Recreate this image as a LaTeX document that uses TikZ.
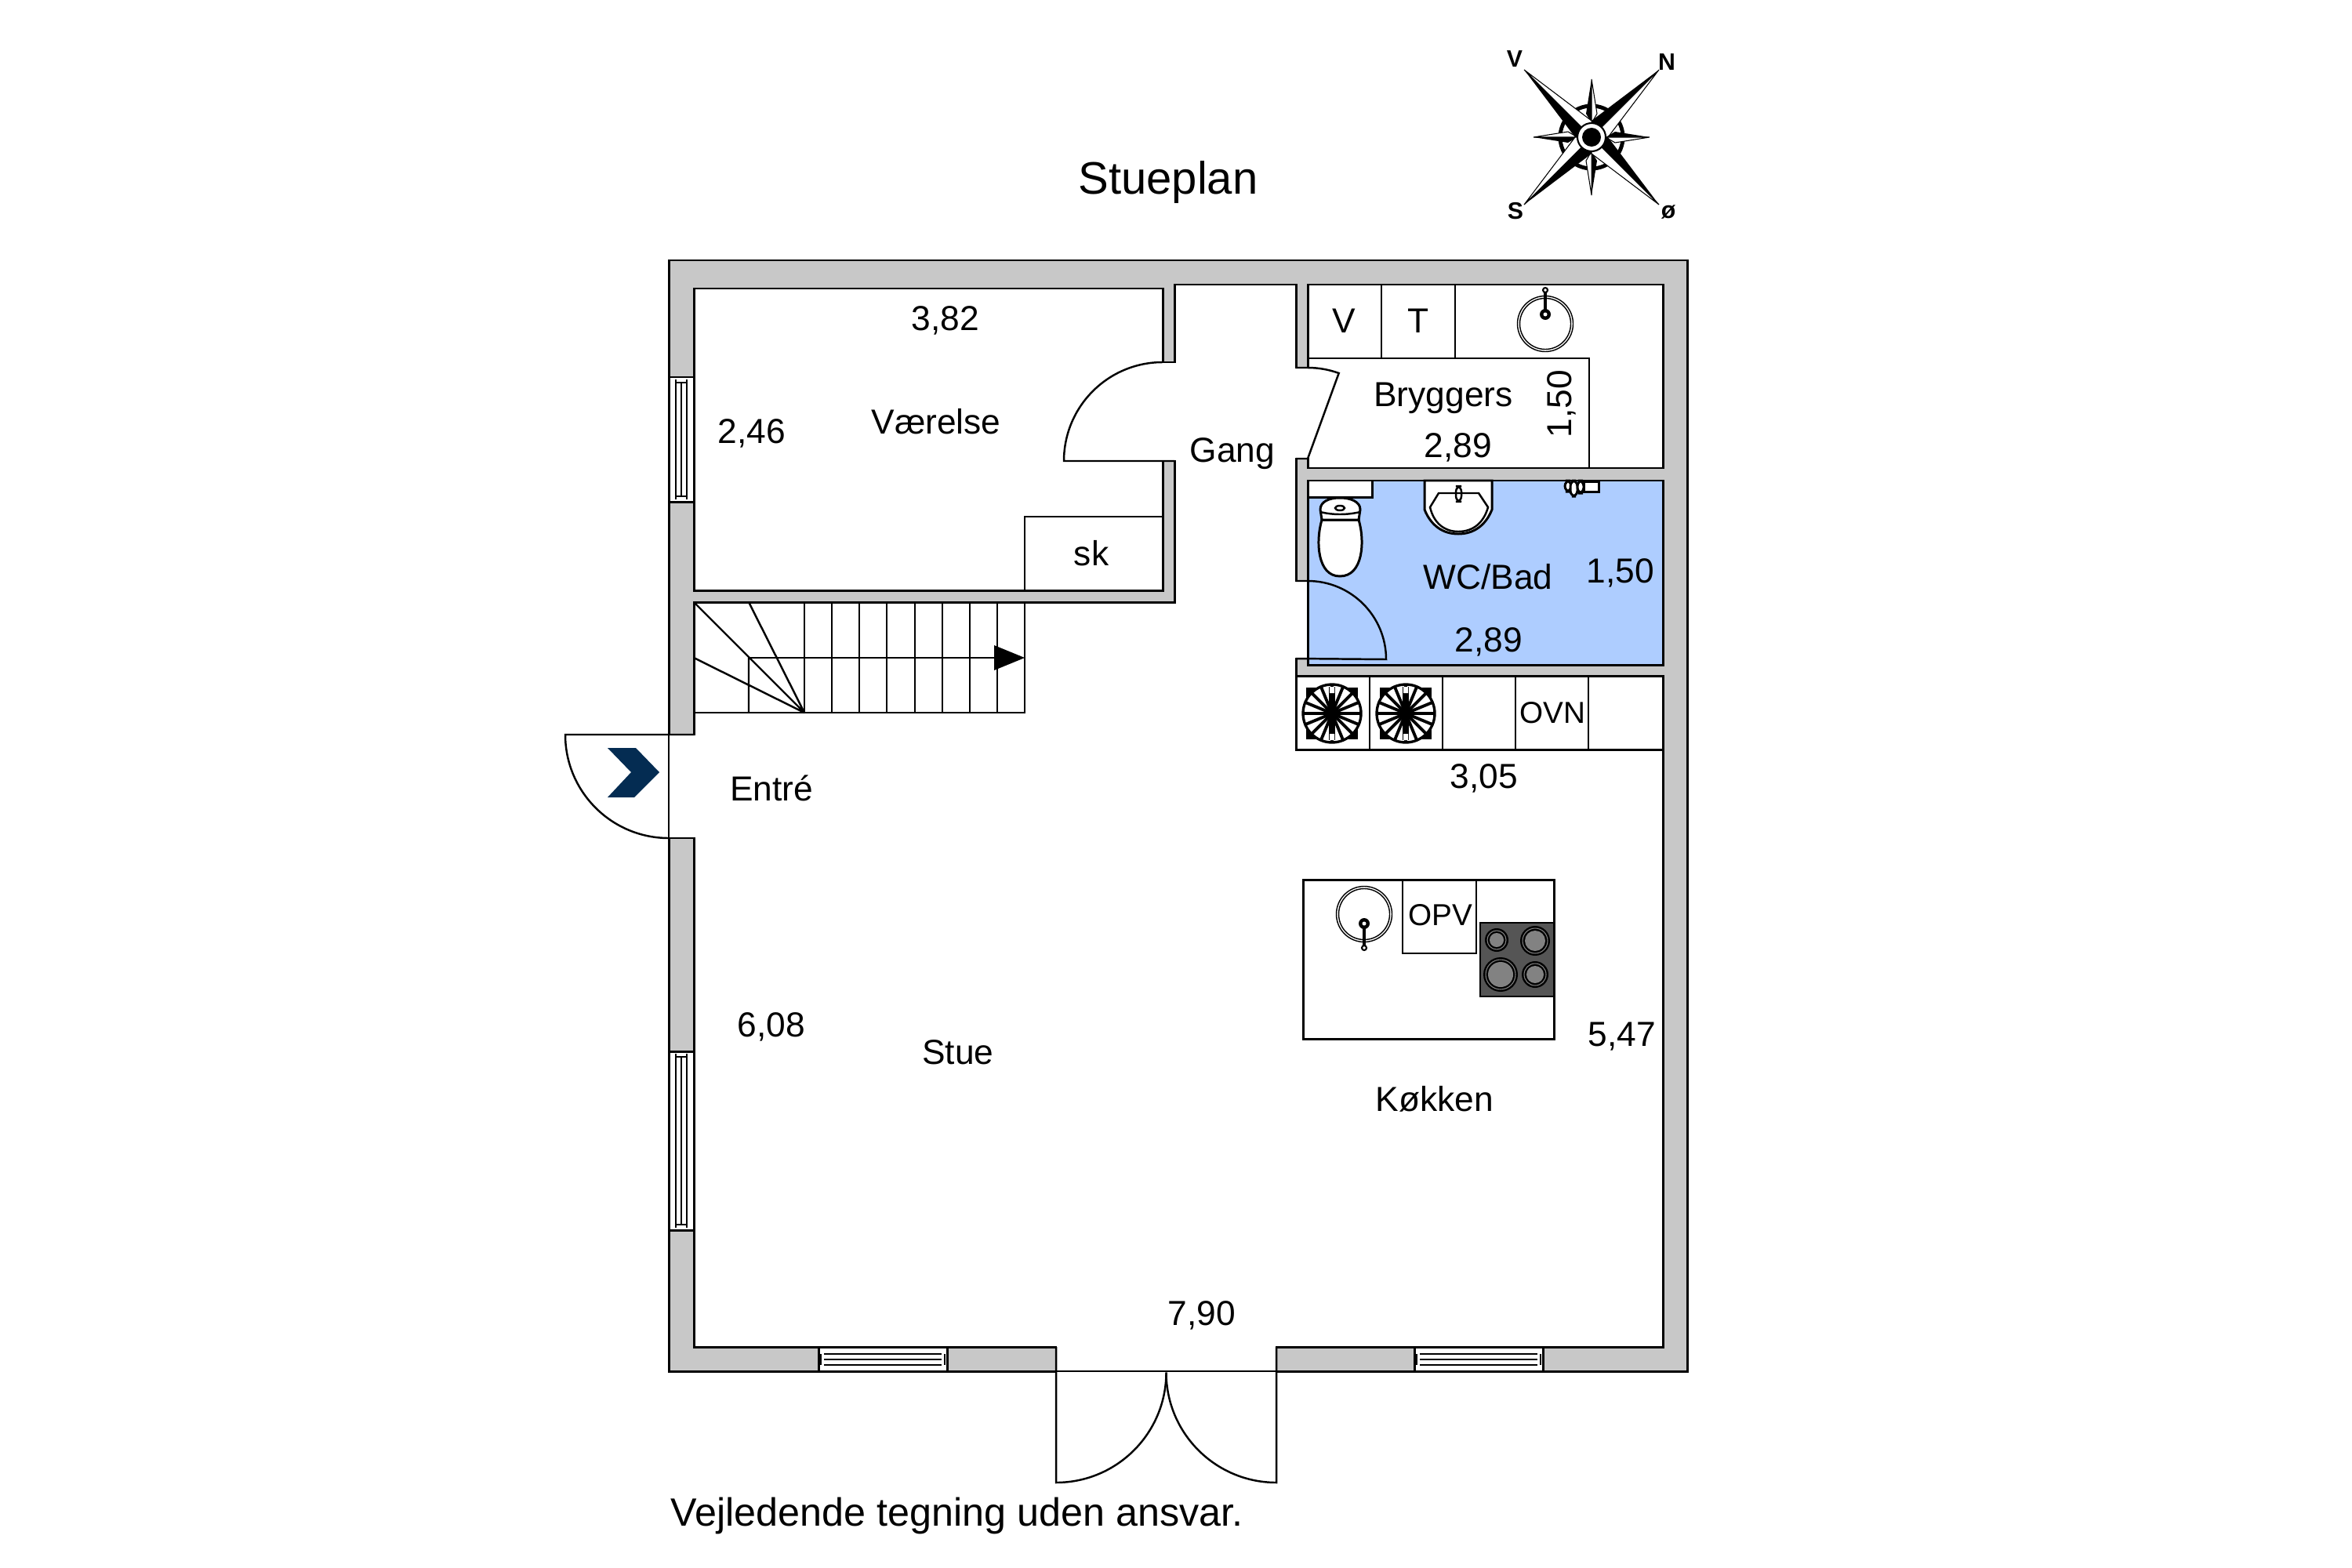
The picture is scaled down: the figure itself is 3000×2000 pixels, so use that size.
\documentclass[tikz,border=0pt]{standalone}
\usepackage{fontspec}
\setmainfont{Liberation Sans}
\usepackage{xcolor}
\definecolor{wallgrey}{RGB}{200, 200, 200}
\definecolor{bathblue}{RGB}{174, 205, 255}
\definecolor{entrynavy}{RGB}{4, 44, 82}
\definecolor{hobgrey}{RGB}{85, 85, 85}
\definecolor{burnergrey}{RGB}{130, 130, 130}

\begin{document}
\begin{tikzpicture}[
        x=0.01cm, y=-0.01cm,
        wall/.style={draw=black, fill=wallgrey, line width=0.85pt},
        room/.style={draw=black, fill=white, line width=0.85pt},
        gap/.style={fill=white},
        plan/.style={draw=black, line width=0.7pt},
        doorline/.style={draw=black, line width=0.7pt},
        ringline/.style={draw=black, line width=0.4pt},
        lbl/.style={font=\fontsize{12.6}{15}\selectfont},
        smalllbl/.style={font=\fontsize{11}{13}\selectfont},
        titlelbl/.style={font=\fontsize{16.5}{20}\selectfont},
        notelbl/.style={font=\fontsize{14.3}{17}\selectfont},
        compasslbl/.style={font=\fontsize{8.6}{10}\selectfont\bfseries}
    ]
    \useasboundingbox (0,0) rectangle (3000,2000);

    % walls and rooms
    \path[wall] (853,332) rectangle (2152,1749);
    \path[room] (885,368) rectangle (1483,753);
    \path[room] (1668,363) rectangle (2121,597);
    \path[room, fill=bathblue] (1668,613) rectangle (2121,848);
    \path[room] (1498,363) -- (1653,363) -- (1653,862) -- (2121,862) -- (2121,1718)
        -- (885,1718) -- (885,768) -- (1498,768) -- cycle;

    % openings
    \fill[gap] (1481,463) rectangle (1500,587);
    \fill[gap] (1651,470) rectangle (1669.5,584);
    \fill[gap] (1651,742) rectangle (1667,839);
    \fill[gap] (851,938) rectangle (887,1068);
    \fill[gap] (1348,1716) rectangle (1627,1751);

    % doors
    \draw[doorline] (1483,462) arc[start angle=270, end angle=180, radius=126] -- (1498,588);
    \draw[doorline] (1483,462) -- (1498,462);
    \draw[doorline] (1653,469) -- (1668,469) arc[start angle=270, end angle=290, radius=116] -- (1668,585) -- (1653,585);
    \draw[doorline] (1653,741) -- (1668,741) arc[start angle=270, end angle=360, radius=100] -- (1653,840);
    \draw[doorline] (1668,741) -- (1668,848);
    \draw[doorline] (853,1069) arc[start angle=90, end angle=180, radius=132] -- (885,937);
    \draw[doorline] (885,1069) -- (853,1069);
    \draw[line width=0.4pt] (853,937) -- (853,1069);
    \draw[doorline] (1347,1718) -- (1347,1891) arc[start angle=90, end angle=0, radius=140.5];
    \draw[doorline] (1628,1718) -- (1628,1891) arc[start angle=90, end angle=180, radius=140.5];
    \draw[line width=0.4pt] (1347,1749) -- (1628,1749);

    % entry mark
    \fill[entrynavy] (775,954) -- (811,954) -- (841,985) -- (809,1017) -- (775,1017) -- (805,985) -- cycle;

    % windows
    \foreach \wa/\wb in {481/640, 1341/1569} {
        \path[room] (853,\wa) rectangle (885,\wb);
        \draw[plan] (862,\wa+3) -- (862,\wb-3) (869,\wa+7) -- (869,\wb-7) (876,\wa+3) -- (876,\wb-3);
        \draw[plan] (862,\wa+7) -- (876,\wa+7) (862,\wb-7) -- (876,\wb-7);
    }
    \foreach \wa/\wb in {1044/1208, 1804/1968} {
        \path[room] (\wa,1718) rectangle (\wb,1749);
        \draw[plan] (\wa+7,1727) -- (\wb-7,1727) (\wa+7,1734) -- (\wb-7,1734) (\wa+7,1741) -- (\wb-7,1741);
        \draw[plan] (\wa+3,1727) -- (\wa+3,1741) (\wb-3,1727) -- (\wb-3,1741);
    }

    % stairs
    \draw[plan] (885,909) -- (1307,909) -- (1307,768);
    \foreach \sx in {1026,1061,1096,1131,1167,1202,1237,1272}
        \draw[plan] (\sx,768) -- (\sx,909);
    \draw[plan] (955,839) -- (955,909) (885,768) -- (1026,909) (955,768) -- (1026,909) (885,839) -- (1026,909);
    \draw[plan] (955,839) -- (1270,839);
    \fill (1268,823) -- (1307,839) -- (1268,855) -- cycle;

    % wardrobe
    \draw[plan] (1307,753) -- (1307,659) -- (1483,659);

    % bryggers fittings
    \draw[plan] (1668,457) -- (2027,457) -- (2027,597);
    \draw[plan] (1762,363) -- (1762,457) (1856,363) -- (1856,457);
    \draw[ringline] (1971,413) circle[radius=35.5] (1971,413) circle[radius=32.5];

    % bathroom fittings
    \path[room] (1668,613) rectangle (1750,634);
    \path[room] (1686,663) .. controls (1678,690) and (1680,735) .. (1709,735)
        .. controls (1739,735) and (1741,690) .. (1733,663) -- cycle;
    \path[room] (1686,663) -- (1684,650) .. controls (1684,640) and (1695,635) .. (1709,635)
        .. controls (1723,635) and (1735,640) .. (1735,650) -- (1733,663) -- cycle;
    \draw[plan] (1684,653) .. controls (1700,657) and (1718,657) .. (1735,653);
    \draw[plan] (1709,648) ellipse[x radius=6, y radius=3];
    \path[room] (1817,613) -- (1817,650) .. controls (1825,670) and (1840,681) .. (1860,681)
        .. controls (1880,681) and (1895,670) .. (1903,650) -- (1903,613) -- cycle;
    \draw[plan] (1835,629) -- (1886,629) -- (1898,647) .. controls (1892,668) and (1878,678) .. (1860,678)
        .. controls (1843,678) and (1829,668) .. (1824,647) -- cycle;
    \draw[plan, rounded corners=2pt] (1857,620) rectangle (1864,640);
    \path[room] (2020,615) rectangle (2039,627);
    \path[room, rounded corners=2pt] (1996,613) rectangle (2004,627);
    \path[room, rounded corners=2pt] (2003,613) rectangle (2012,633);
    \path[room, rounded corners=2pt] (2012,613) rectangle (2020,629);

    % kitchen counter
    \path[room] (1653,862) rectangle (2121,956);
    \foreach \cx in {1747,1840,1933,2026}
        \draw[plan] (\cx,862) -- (\cx,956);
    \foreach \bx in {1699,1793} {
        \fill (\bx-33,877) rectangle (\bx+33,943);
        \draw[fill=white, line width=0.95pt] (\bx,910) circle[radius=37];
        \foreach \ang in {0,22.5,...,337.5}
            \draw[line width=1.1pt] (\bx,910) -- ++(\ang:37);
        \fill (\bx-4,876) rectangle (\bx+4,944);
        \fill[white] (\bx-3,876) rectangle (\bx+3,884) (\bx-3,936) rectangle (\bx+3,944);
        \fill (\bx,910) circle[radius=10];
    }

    % kitchen island
    \path[room] (1662,1122) rectangle (1982,1325);
    \draw[plan] (1789,1122) rectangle (1883,1216);
    \draw[ringline] (1740,1166) circle[radius=35.5] (1740,1166) circle[radius=32.5];
    \draw[draw=black, fill=hobgrey, line width=0.7pt] (1888,1177) rectangle (1982,1271);
    \foreach \hx/\hy/\hr in {1909/1199/15, 1958/1200/19, 1914/1243/22, 1958/1243/17} {
        \fill (\hx,\hy) circle[radius=\hr];
        \draw[burnergrey, line width=0.3pt] (\hx,\hy) circle[radius=\hr-3];
        \fill[burnergrey] (\hx,\hy) circle[radius=\hr-6];
    }

    % taps
    \foreach \tx/\ty/\tz in {1971/401/370, 1740/1178/1209} {
        \draw[line width=1pt] (\tx,\ty) -- (\tx,\tz);
        \draw[fill=white, line width=0.6pt] (\tx,\tz) circle[radius=3];
        \fill (\tx,\ty) circle[radius=7];
        \fill[white] (\tx,\ty) circle[radius=2.5];
    }

    % compass
    \begin{scope}[shift={(2030,175)}]
        \draw[line width=1.4pt] (0,0) circle[radius=40];
        \foreach \ang in {0,90,180,270} {
            \begin{scope}[rotate=\ang]
                \fill (0,-74) -- (-7,-30) -- (0,-18) -- cycle;
                \draw[fill=white, line width=0.3pt] (0,-74) -- (7,-30) -- (0,-18) -- cycle;
                \fill (86,-86) -- (0,-21) -- (0,0) -- cycle;
                \draw[fill=white, line width=0.3pt] (86,-86) -- (21,0) -- (0,0) -- cycle;
            \end{scope}
        }
        \draw[fill=white, line width=0.6pt] (0,0) circle[radius=18];
        \fill (0,0) circle[radius=12];
    \end{scope}
    \node[compasslbl] (north) at (2126,79) {N};
    \node[compasslbl] (west) at (1932,75) {V};
    \node[compasslbl] (south) at (1933,269) {S};
    \node[compasslbl] (east) at (2128,271) {ø};

    % texts
    \node[titlelbl] (title) at (1490,232) {Stueplan};
    \node[notelbl, anchor=west, inner sep=0pt] (note) at (855,1933) {Vejledende tegning uden ansvar.};
    \node[lbl] (vaerelse) at (1194,538) {Værelse};
    \node[lbl] (vaerelsew) at (1206,409) {3,82};
    \node[lbl] (vaerelseh) at (959,553) {2,46};
    \node[lbl] (skab) at (1392,706) {sk};
    \node[lbl] (gang) at (1572,579) {Gang};
    \node[lbl] (bryggers) at (1841,508) {Bryggers};
    \node[lbl] (bryggersw) at (1860,571) {2,89};
    \node[lbl, rotate=90] (bryggersh) at (1992,515) {1,50};
    \node[lbl] (vask) at (1714,409) {V};
    \node[lbl] (toerrer) at (1809,409) {T};
    \node[lbl] (bad) at (1898,736) {WC/Bad};
    \node[lbl] (badh) at (2067,731) {1,50};
    \node[lbl] (badw) at (1899,819) {2,89};
    \node[smalllbl] (ovn) at (1980,909) {OVN};
    \node[lbl] (koekkenw) at (1893,993) {3,05};
    \node[lbl] (entre) at (984,1005) {Entré};
    \node[smalllbl] (opv) at (1837,1167) {OPV};
    \node[lbl] (stueh) at (984,1310) {6,08};
    \node[lbl] (stue) at (1222,1342) {Stue};
    \node[lbl] (koekkenh) at (2069,1322) {5,47};
    \node[lbl] (koekken) at (1830,1402) {Køkken};
    \node[lbl] (stuew) at (1533,1678) {7,90};
\end{tikzpicture}
\end{document}
